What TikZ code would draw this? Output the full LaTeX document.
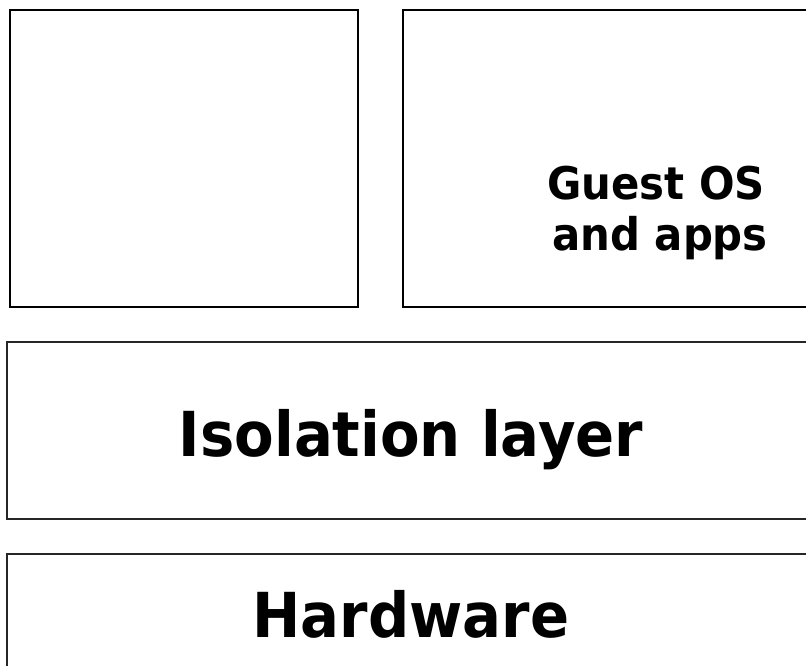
\documentclass[tikz,border=0pt]{standalone}
\usepackage{fontspec}
\setmainfont{DejaVu Sans}[FakeStretch=0.93]
\begin{document}
\begin{tikzpicture}[x=1pt,y=-1pt,
  topbox/.style={draw=black,line width=2.2pt,inner sep=0pt,anchor=north west},
  layerbox/.style={draw=black!85,line width=1.7pt,inner sep=0pt,anchor=north west},
  bigtxt/.style={font=\bfseries\fontsize{62}{70}\selectfont,inner sep=0pt,anchor=base},
  smalltxt/.style={font=\bfseries\fontsize{45}{50}\selectfont,inner sep=0pt,anchor=base,align=center}]
\useasboundingbox (0,0) rectangle (806,666);
\clip (0,0) rectangle (806,666);
\fill[white] (0,0) rectangle (806,666);
\node[topbox,minimum width=348pt,minimum height=297pt] (vm1) at (9,9) {};
\node[topbox,minimum width=430pt,minimum height=297pt] (vm2) at (402,9) {};
\node[layerbox,minimum width=820pt,minimum height=177pt] (iso) at (6,341) {};
\node[layerbox,minimum width=820pt,minimum height=177pt] (hw) at (6,553) {};
\node[smalltxt] (g1) at (656,200) {Guest OS};
\node[smalltxt] (g2) at (660,250) {and apps};
\node[bigtxt] (isot) at (411,456) {Isolation layer};
\node[bigtxt] (hwt) at (411,637) {Hardware};
\end{tikzpicture}
\end{document}
